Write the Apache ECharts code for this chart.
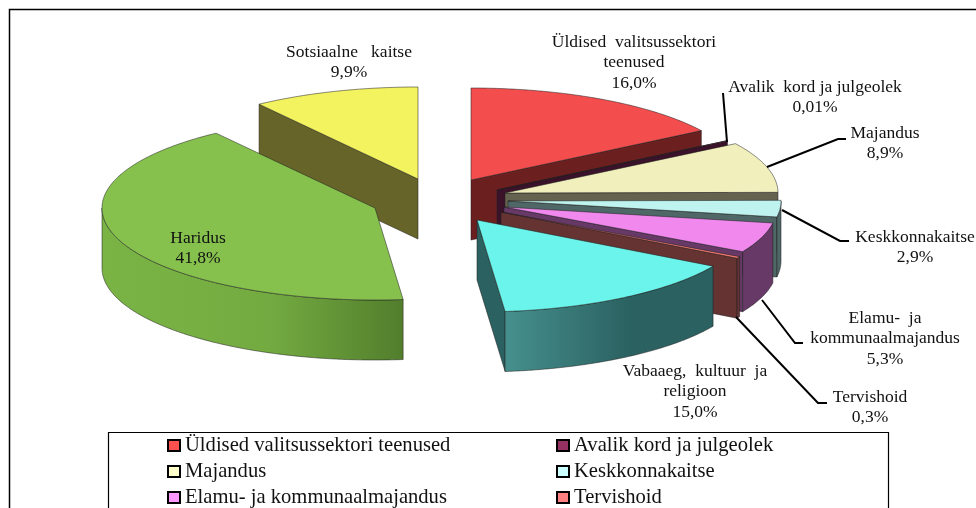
<!DOCTYPE html>
<html>
<head>
<meta charset="utf-8">
<style>
    html, body { margin: 0; padding: 0; background: #fff; }
    #chart { width: 976px; height: 508px; }
</style>
<script src="https://cdn.jsdelivr.net/npm/echarts@6/dist/echarts.min.js"></script>
</head>
<body>
<div id="chart"></div>
<script>
const names = ['Üldised valitsussektori teenused', 'Avalik kord ja julgeolek', 'Majandus', 'Keskkonnakaitse',
    'Elamu- ja kommunaalmajandus', 'Tervishoid', 'Vabaaeg, kultuur ja religioon', 'Haridus', 'Sotsiaalne kaitse'];
const values = [16.0, 0.01, 8.9, 2.9, 5.3, 0.3, 15.0, 41.8, 9.9];
// the original labels are justified, hence the wide word gaps
const labelNames = ['Üldised  valitsussektori\nteenused', 'Avalik  kord ja julgeolek', 'Majandus', 'Keskkonnakaitse',
    'Elamu-  ja\nkommunaalmajandus', 'Tervishoid', 'Vabaaeg,  kultuur  ja\nreligioon', 'Haridus', 'Sotsiaalne   kaitse'];
const legendLeft = [names[0], names[2], names[4]];
const legendRight = [names[1], names[3], names[5]];

const legendColors = ['#ff5050', '#953163', '#ffffcc', '#ccffff', '#ff99ff', '#ff8080', '#66ffff', '#8cc84f', '#ffff66'];
const topColors = ['#f44d4e', '#8f2f5f', '#f1f0bd', '#bef3ef', '#f088ee', '#ff7f72', '#6bf4eb', '#86c14e', '#f3f25f'];
const sideColors = ['#6b1f1f', '#3a1229', '#656350', '#4f6767', '#663966', '#653331', '#2b6160', '#527e2c', '#666428'];
// arc wall shading, left to right; slices not listed use the side colour
const wallStops = {
    6: [[0, '#45908e'], [0.6, '#2b6161'], [1, '#2b6160']],
    7: [[0, '#7ab445'], [0.55, '#74ab41'], [1, '#527e2c']]
};

// exploded centres as placed in the original, the ellipse is the same for all
const centers = [[471, 180], [497, 190], [505, 193], [508, 201], [504, 207], [501, 212], [477, 220], [375, 208], [418, 179]];
const RX = 273, RY = 92, DEPTH = 60;
const drawOrder = [8, 7, 0, 1, 2, 3, 4, 5, 6];

// label centre x, first line y; leader from the slice to the label
const labelPos = [[634, 42], [815, 87], [885, 133], [915, 237], [885, 318], [870, 397], [695, 371], [198, 238], [349, 52]];
const leaders = {
    1: [[723, 93], [727, 142]],
    2: [[767, 167], [838, 139], [846, 139]],
    3: [[782, 210], [840, 241], [849, 241]],
    4: [[762, 300], [795, 343], [803, 343]],
    5: [[736, 317], [818, 403], [827, 403]]
};

const FONT = '"Liberation Serif", "Times New Roman", serif';
const total = values.reduce((a, b) => a + b, 0);

function angleAt(i) {
    let s = 0;
    for (let k = 0; k < i; k++) s += values[k];
    return s / total * 360;
}

function ellipsePoint(c, deg, dy) {
    const r = deg * Math.PI / 180;
    return [c[0] + RX * Math.sin(r), c[1] - RY * Math.cos(r) + (dy || 0)];
}

function arcPoints(c, a, b, dy) {
    const pts = [];
    const steps = Math.max(1, Math.ceil((b - a) * 2));
    for (let k = 0; k <= steps; k++) pts.push(ellipsePoint(c, a + (b - a) * k / steps, dy));
    return pts;
}

function wallFill(i) {
    const stops = wallStops[i];
    if (!stops) return sideColors[i];
    return new echarts.graphic.LinearGradient(0, 0, 1, 0, stops.map(s => ({ offset: s[0], color: s[1] })));
}

function renderSlice(i) {
    const c = centers[i];
    const a = angleAt(i), b = angleAt(i + 1);
    const edge = { stroke: 'rgba(30,30,30,0.75)', lineWidth: 0.7 };
    const children = [];

    const radialFace = deg => {
        const e = ellipsePoint(c, deg);
        children.push({
            type: 'polygon',
            shape: { points: [c, e, [e[0], e[1] + DEPTH], [c[0], c[1] + DEPTH]] },
            style: Object.assign({ fill: sideColors[i] }, edge)
        });
    };
    if (a >= 180) radialFace(a);
    if (b <= 180) radialFace(b);

    const wa = Math.max(a, 90), wb = Math.min(b, 270);
    if (wb > wa) {
        const top = arcPoints(c, wa, wb);
        const bottom = arcPoints(c, wa, wb, DEPTH).reverse();
        children.push({
            type: 'polygon',
            shape: { points: top.concat(bottom) },
            style: Object.assign({ fill: wallFill(i) }, edge)
        });
    }

    children.push({
        type: 'polygon',
        shape: { points: [c].concat(arcPoints(c, a, b)) },
        style: Object.assign({ fill: topColors[i] }, edge)
    });
    return { type: 'group', children };
}

function valueText(v) {
    return (v < 0.1 ? v.toFixed(2) : v.toFixed(1)).replace('.', ',') + '%';
}

function renderLabel(params) {
    const i = params.dataIndex;
    const children = [{
        type: 'text',
        style: {
            text: labelNames[i] + '\n' + valueText(values[i]),
            x: labelPos[i][0],
            y: labelPos[i][1] - 10,
            align: 'center',
            verticalAlign: 'top',
            font: '17.5px ' + FONT,
            lineHeight: 20.5,
            fill: '#111'
        }
    }];
    if (leaders[i]) {
        children.push({
            type: 'polyline',
            shape: { points: leaders[i] },
            style: { stroke: '#000', lineWidth: 2, fill: null }
        });
    }
    return { type: 'group', children };
}

const sliceSeries = names.map((name, i) => ({
    type: 'custom',
    name: name,
    coordinateSystem: 'none',
    z: 2 + drawOrder.indexOf(i),
    silent: true,
    itemStyle: { color: legendColors[i] },
    data: [values[i]],
    renderItem: () => renderSlice(i)
}));

const legendBase = {
    orient: 'vertical',
    icon: 'rect',
    top: 435,
    height: 80,
    padding: 0,
    itemWidth: 12,
    itemHeight: 11,
    itemGap: 5,
    selectedMode: false,
    itemStyle: { borderColor: '#000', borderWidth: 2 },
    textStyle: { fontFamily: FONT, fontSize: 20.6, lineHeight: 20, color: '#111' }
};

const chart = echarts.init(document.getElementById('chart'), null, { renderer: 'canvas' });
chart.setOption({
    animation: false,
    backgroundColor: '#fff',
    legend: [
        Object.assign({}, legendBase, { data: legendLeft, left: 167 }),
        Object.assign({}, legendBase, { data: legendRight, left: 556 })
    ],
    graphic: [
        // outer frame and legend box run off the page at the bottom
        { type: 'polyline', silent: true, shape: { points: [[9.5, 508], [9.5, 9.5], [976, 9.5]] }, style: { stroke: '#000', lineWidth: 1.5, fill: null } },
        { type: 'polyline', silent: true, shape: { points: [[108.5, 508], [108.5, 432.5], [888.5, 432.5], [888.5, 508]] }, style: { stroke: '#000', lineWidth: 1.2, fill: null } }
    ],
    series: sliceSeries.concat([{
        type: 'custom',
        name: 'labels',
        coordinateSystem: 'none',
        z: 30,
        silent: true,
        data: values,
        renderItem: renderLabel
    }])
});
</script>
</body>
</html>
